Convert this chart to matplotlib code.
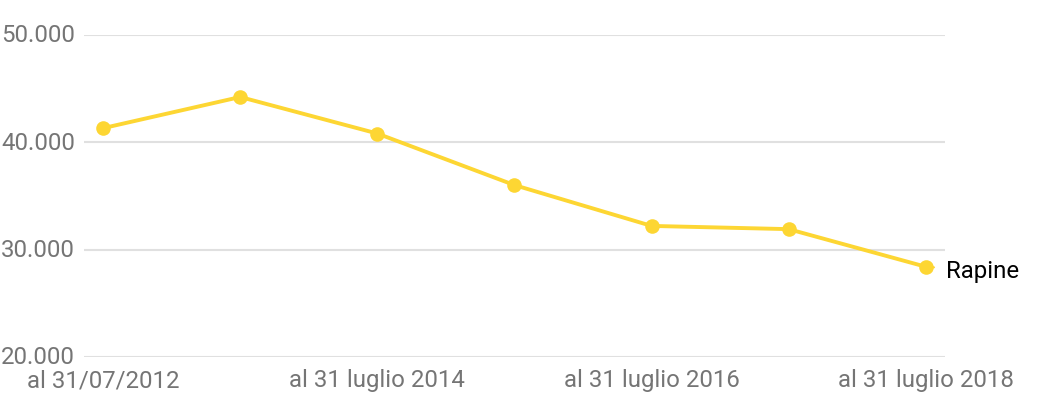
import matplotlib.pyplot as plt
from matplotlib.ticker import FuncFormatter

plt.rcParams["font.family"] = ["Roboto", "DejaVu Sans"]

# Rapine, al 31 luglio di ogni anno
CATEGORIES = [
    "al 31/07/2012",
    "al 31 luglio 2013",
    "al 31 luglio 2014",
    "al 31 luglio 2015",
    "al 31 luglio 2016",
    "al 31 luglio 2017",
    "al 31 luglio 2018",
]
RAPINE = [41300, 44200, 40800, 36000, 32200, 31900, 28400]
SERIES_NAME = "Rapine"
Y_TICKS = [20000, 30000, 40000, 50000]

YELLOW = "#fdd633"
GREY = "#757575"
GRID = "#e0e0e0"


def italian_thousands(v, pos):
    return f"{int(v):,}".replace(",", ".")


fig = plt.figure(figsize=(10.44, 4.14), dpi=100)
ax = fig.add_axes([0.0805, 0.1353, 0.905 - 0.0805, 0.9138 - 0.1353])

x = list(range(len(CATEGORIES)))
ax.plot(x, RAPINE, color=YELLOW, linewidth=2.8, marker="o", markersize=10.5,
        markeredgewidth=0, solid_capstyle="round", zorder=3, clip_on=False)

ax.set_xlim(-0.139, len(CATEGORIES) - 1 + 0.139)
ax.set_ylim(Y_TICKS[0], Y_TICKS[-1])
ax.set_yticks(Y_TICKS)
ax.yaxis.set_major_formatter(FuncFormatter(italian_thousands))
ax.grid(axis="y", color=GRID, linewidth=1.5)
ax.set_axisbelow(True)

# only every other category is labelled
ax.set_xticks(x[::2])
ax.set_xticklabels(CATEGORIES[::2])

for side in ["top", "right", "left", "bottom"]:
    ax.spines[side].set_visible(False)
ax.tick_params(axis="both", length=0, labelcolor=GREY, labelsize=17.3)
ax.tick_params(axis="y", pad=6.5)
ax.tick_params(axis="x", pad=8)
for lbl in ax.get_yticklabels():
    lbl.set_verticalalignment("center")

# series label at the end of the line
ax.annotate(SERIES_NAME, xy=(x[-1], RAPINE[-1]), xytext=(14.4, -3),
            textcoords="offset points", color="black", fontsize=17.3,
            va="center", ha="left", annotation_clip=False,
            arrowprops=dict(arrowstyle="-", color=YELLOW, lw=1.5,
                            shrinkA=6.5, shrinkB=0))

fig.savefig("out.png", dpi=100)
